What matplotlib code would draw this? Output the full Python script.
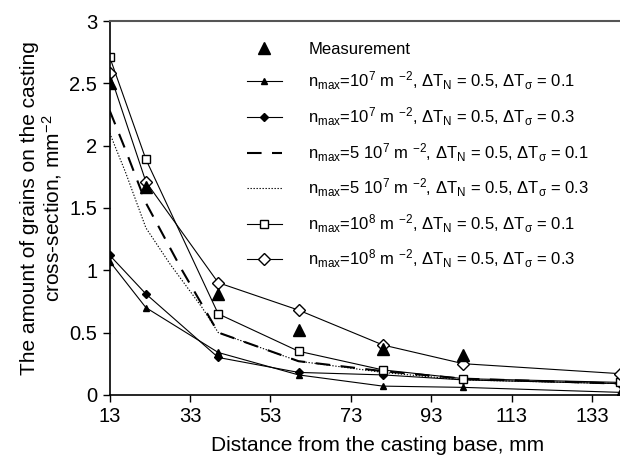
import numpy as np
import matplotlib
matplotlib.use('Agg')
import matplotlib.pyplot as plt

plt.rcParams['font.family'] = ['Liberation Sans', 'DejaVu Sans']
plt.rcParams['mathtext.fontset'] = 'custom'
plt.rcParams['mathtext.rm'] = 'Liberation Sans'
plt.rcParams['mathtext.it'] = 'Liberation Sans:italic'
plt.rcParams['mathtext.bf'] = 'Liberation Sans:bold'
plt.rcParams['mathtext.sf'] = 'Liberation Sans'

# measured grain density
x_meas = [13, 22, 40, 60, 81, 101]
y_meas = [2.50, 1.67, 0.81, 0.52, 0.37, 0.32]

# model results at the sampling points
x_mod = [13, 22, 40, 60, 81, 101, 140]
y_n7_01 = [1.07, 0.70, 0.34, 0.16, 0.07, 0.06, 0.02]
y_n7_03 = [1.12, 0.81, 0.30, 0.18, 0.16, 0.12, 0.09]
y_n8_01 = [2.71, 1.89, 0.65, 0.35, 0.20, 0.13, 0.10]
y_n8_03 = [2.58, 1.71, 0.90, 0.68, 0.40, 0.25, 0.17]

# 5e7 curves (no markers, denser sampling)
x_n5_01 = [13, 17, 22, 31, 40, 60, 81, 101, 140]
y_n5_01 = [2.28, 1.96, 1.54, 1.00, 0.50, 0.27, 0.19, 0.13, 0.09]
x_n5_03 = [13, 17, 22, 28, 36, 40, 60, 81, 101, 140]
y_n5_03 = [2.10, 1.78, 1.34, 1.05, 0.70, 0.50, 0.27, 0.18, 0.12, 0.09]

tail = r' m $^{-2}$, $\Delta$T$_{\mathrm{N}}$ = 0.5, $\Delta$T$_{\mathrm{σ}}$ = '
labels = [
    'Measurement',
    r'n$_{\mathrm{max}}$=10$^{7}$' + tail + '0.1',
    r'n$_{\mathrm{max}}$=10$^{7}$' + tail + '0.3',
    r'n$_{\mathrm{max}}$=5 10$^{7}$' + tail + '0.1',
    r'n$_{\mathrm{max}}$=5 10$^{7}$' + tail + '0.3',
    r'n$_{\mathrm{max}}$=10$^{8}$' + tail + '0.1',
    r'n$_{\mathrm{max}}$=10$^{8}$' + tail + '0.3',
]

fig = plt.figure(figsize=(6.2, 4.57), dpi=100)
ax = fig.add_axes([0.177, 0.136, 0.823, 0.818])

lw = 0.8
ax.plot(x_meas, y_meas, 'k^', ms=8, ls='none', label=labels[0], zorder=5)
ax.plot(x_mod, y_n7_01, 'k-', marker='^', ms=5, lw=lw, label=labels[1])
ax.plot(x_mod, y_n7_03, 'k-', marker='D', ms=4.5, lw=lw, label=labels[2])
ax.plot(x_n5_01, y_n5_01, color='k', ls=(0, (7, 5)), lw=1.5, label=labels[3])
ax.plot(x_n5_03, y_n5_03, color='k', ls=(0, (1.2, 1.5)), lw=0.8, label=labels[4])
ax.plot(x_mod, y_n8_01, 'k-', marker='s', ms=6, mfc='white', lw=lw, label=labels[5])
ax.plot(x_mod, y_n8_03, 'k-', marker='D', ms=6.5, mfc='white', lw=lw, label=labels[6])

ax.set_xlim(13, 140)
ax.set_ylim(0, 3)
ax.set_xticks([13, 33, 53, 73, 93, 113, 133])
ax.set_yticks([0, 0.5, 1, 1.5, 2, 2.5, 3])
ax.set_yticklabels(['0', '0.5', '1', '1.5', '2', '2.5', '3'])
ax.tick_params(direction='out', length=5, width=1, labelsize=14.5, pad=4)

ax.spines['right'].set_visible(False)
ax.spines['top'].set_color('#555555')
ax.spines['top'].set_linewidth(1.5)
ax.spines['left'].set_linewidth(1.2)
ax.spines['bottom'].set_linewidth(1.2)

ax.set_xlabel('Distance from the casting base, mm', fontsize=15)
ax.xaxis.set_label_coords(0.524, -0.11)
ax.set_ylabel('The amount of grains on the casting\ncross-section, mm$^{-2}$',
              fontsize=15, labelpad=4, linespacing=1.05)

leg = ax.legend(loc='upper left', bbox_to_anchor=(0.255, 0.962), frameon=False,
                fontsize=12, handlelength=2.1, handletextpad=1.6,
                labelspacing=0.78, borderaxespad=0)

fig.savefig('out.png', dpi=100)
